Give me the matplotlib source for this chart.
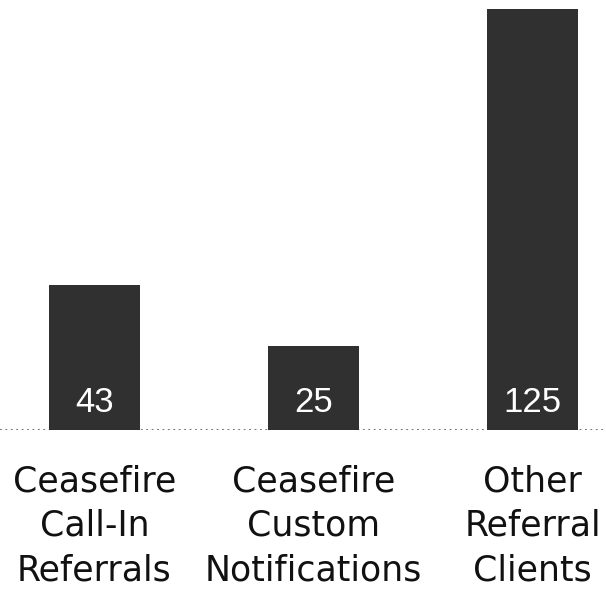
import matplotlib
matplotlib.use("Agg")
import matplotlib.pyplot as plt

categories = ["Ceasefire\nCall-In\nReferrals", "Ceasefire\nCustom\nNotifications", "Other\nReferral\nClients"]
values = [43, 25, 125]

W, H = 606, 594
fig = plt.figure(figsize=(W / 100, H / 100), dpi=100)
fig.patch.set_facecolor("white")

base_px = 430
top_px = 9
ax = fig.add_axes([0, (H - base_px) / H, 1, (base_px - top_px) / H])
ax.set_facecolor("none")

x = list(range(len(values)))
ax.bar(x, values, width=0.415, color="#303030", zorder=2)
ax.set_xlim(-94.5 / 219, (W - 94.5) / 219)
ax.set_ylim(0, max(values))

ax.axhline(0, color="#666666", linestyle=(0, (1, 2)), lw=1.3, zorder=1)

for xi, v in zip(x, values):
    ax.annotate(str(v), (xi, 0), xytext=(0, 13), textcoords="offset points",
                ha="center", va="baseline", color="white",
                fontsize=25, family="Liberation Sans", zorder=3)

ax.set_xticks(x)
ax.set_xticklabels(categories, fontsize=25, family="DejaVu Sans",
                   color="#111111", linespacing=1.38)
ax.tick_params(axis="x", length=0, pad=25)
ax.tick_params(axis="y", left=False, labelleft=False)
for s in ax.spines.values():
    s.set_visible(False)

fig.savefig("out.png", dpi=100, facecolor="white")
